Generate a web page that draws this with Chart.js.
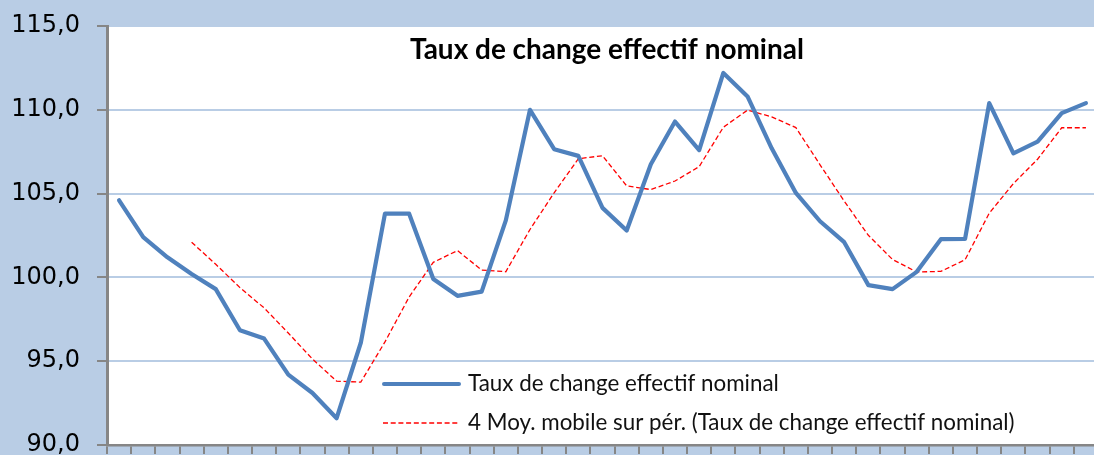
<!DOCTYPE html>
<html>
<head>
<meta charset="utf-8">
<script src="https://cdn.jsdelivr.net/npm/chart.js@4/dist/chart.umd.min.js"></script>
<style>
html,body{margin:0;padding:0;overflow:hidden;background:#B9CDE5;}
#wrap{width:1100px;height:455px;}
</style>
</head>
<body>
<div id="wrap"><canvas id="c" width="1100" height="455"></canvas></div>
<script>
const chartTitle = "Taux de change effectif nominal";
const seriesName = "Taux de change effectif nominal";
const trendName = "4 Moy. mobile sur pér. (Taux de change effectif nominal)";
const categories = ["1","2","3","4","5","6","7","8","9","10","11","12","13","14","15","16","17","18","19","20","21","22","23","24","25","26","27","28","29","30","31","32","33","34","35","36","37","38","39","40","41"];
const tauxChange = [104.6,102.4,101.2,100.2,99.3,96.85,96.35,94.2,93.1,91.6,96.1,103.8,103.8,99.9,98.9,99.15,103.4,110.0,107.65,107.25,104.15,102.8,106.75,109.3,107.6,112.2,110.8,107.7,105.04,103.35,102.1,99.54,99.3,100.33,102.28,102.3,110.4,107.4,108.1,109.8,110.4];
const moyMobile = [null,null,null,102.1,100.78,99.39,98.18,96.68,95.13,93.81,93.75,96.15,98.83,100.9,101.6,100.44,100.34,102.86,105.05,107.08,107.26,105.46,105.24,105.75,106.61,108.96,109.98,109.58,108.94,106.72,104.55,102.51,101.07,100.32,100.36,101.05,103.83,105.6,107.05,108.93,108.93];
const yTicks = [90,95,100,105,110,115];

const BG = '#B9CDE5';
const BLUE = '#4F81BD';
const RED = '#FF0000';
const AXIS = '#868686';

function fitFont(ctx, text, weight, family, targetW) {
  ctx.font = weight + ' 20px ' + family;
  const w = ctx.measureText(text).width;
  return 20 * targetW / w;
}

const decor = {
  id: 'decor',
  beforeDraw(chart) {
    const {ctx, chartArea} = chart;
    ctx.save();
    ctx.fillStyle = BG;
    ctx.fillRect(0, 0, chart.width, chart.height);
    ctx.fillStyle = '#FFFFFF';
    ctx.fillRect(chartArea.left, chartArea.top, chart.width - chartArea.left, chartArea.bottom - chartArea.top);
    ctx.restore();
  },
  afterDraw(chart) {
    const {ctx} = chart;
    ctx.save();
    let fs = fitFont(ctx, chartTitle, 'bold', 'Lato', 394);
    ctx.font = 'bold ' + fs.toFixed(2) + 'px Lato';
    ctx.fillStyle = '#000';
    ctx.textBaseline = 'alphabetic';
    ctx.textAlign = 'left';
    ctx.fillText(chartTitle, 410, 59);
    fs = fitFont(ctx, seriesName, 'normal', 'Lato', 311);
    ctx.font = fs.toFixed(2) + 'px Lato';
    ctx.fillStyle = '#111';
    ctx.fillText(seriesName, 468, 391);
    ctx.fillText(trendName, 468, 430);
    ctx.lineCap = 'round';
    ctx.strokeStyle = BLUE;
    ctx.lineWidth = 4;
    ctx.beginPath(); ctx.moveTo(384, 384); ctx.lineTo(459, 384); ctx.stroke();
    ctx.lineCap = 'butt';
    ctx.strokeStyle = RED;
    ctx.lineWidth = 1.3;
    ctx.setLineDash([5, 2.7]);
    ctx.beginPath(); ctx.moveTo(383, 423); ctx.lineTo(460, 423); ctx.stroke();
    ctx.restore();
  }
};

function zeroPad(s) { s.paddingTop = 0; s.paddingBottom = 0; s.paddingLeft = 0; s.paddingRight = 0; }

const chart = new Chart(document.getElementById('c'), {
  type: 'line',
  data: {
    labels: categories,
    datasets: [
      {label: seriesName, data: tauxChange, borderColor: BLUE, borderWidth: 4.2, pointRadius: 0, tension: 0, fill: false, borderJoinStyle: 'round', borderCapStyle: 'round', order: 0},
      {label: trendName, data: moyMobile, borderColor: RED, borderWidth: 1.3, borderDash: [5, 2.7], pointRadius: 0, tension: 0, fill: false, spanGaps: false, order: 1}
    ]
  },
  options: {
    responsive: false,
    animation: false,
    devicePixelRatio: 1,
    layout: {padding: {top: 26, right: 2, left: 0, bottom: 0}},
    plugins: {legend: {display: false}, title: {display: false}, tooltip: {enabled: false}},
    scales: {
      x: {
        offset: true,
        grid: {offset: true, drawOnChartArea: false, drawTicks: true, tickLength: 9, tickColor: AXIS, lineWidth: 2},
        border: {color: AXIS, width: 2.5},
        ticks: {display: false},
        afterFit(s) { s.height = 10; zeroPad(s); }
      },
      y: {
        min: 90, max: 115,
        afterBuildTicks(s) { s.ticks = yTicks.map(v => ({value: v})); },
        grid: {color: BG, lineWidth: 2, drawTicks: true, tickLength: 10, tickColor: AXIS},
        border: {color: AXIS, width: 3},
        ticks: {
          color: '#000',
          padding: 17,
          font: {family: 'DejaVu Sans', size: 24},
          callback: v => v.toFixed(1).replace('.', ',')
        },
        afterFit(s) { s.width = 107; zeroPad(s); }
      }
    }
  },
  plugins: [decor]
});
</script>
</body>
</html>
